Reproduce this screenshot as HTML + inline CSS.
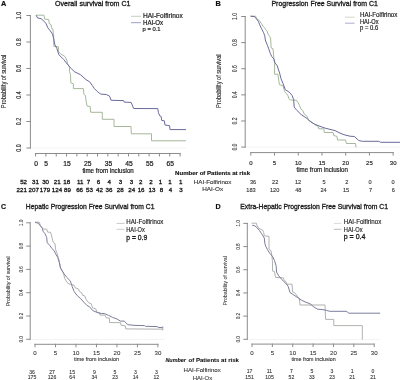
<!DOCTYPE html>
<html><head><meta charset="utf-8">
<style>
html,body{margin:0;padding:0;background:#fff;}
body{width:400px;height:380px;overflow:hidden;}
svg{display:block;font-family:"Liberation Sans", sans-serif;filter:blur(0.25px);}
</style></head>
<body>
<svg width="400" height="380" viewBox="0 0 400 380">
<rect x="0" y="0" width="400" height="380" fill="#fff"/>
<text x="0.9" y="5.9" font-size="7.3" fill="#111" stroke="#111" stroke-width="0.2" font-weight="bold">A</text>
<text x="55" y="6.0" font-size="7.4" fill="#1a1a1a" stroke="#1a1a1a" stroke-width="0.32" textLength="75.5" lengthAdjust="spacingAndGlyphs">Overall survival from C1</text>
<line x1="30.4" y1="15.0" x2="30.4" y2="148.5" stroke="#8c8c8c" stroke-width="1"/>
<line x1="26.4" y1="148.0" x2="30.9" y2="148.0" stroke="#8c8c8c" stroke-width="1"/>
<text transform="translate(18.9,148.0) rotate(-90)" y="2.52" font-size="7" fill="#2a2a2a" stroke="#2a2a2a" stroke-width="0.15" text-anchor="middle" textLength="7.4" lengthAdjust="spacingAndGlyphs">0.0</text>
<line x1="26.4" y1="121.5" x2="30.9" y2="121.5" stroke="#8c8c8c" stroke-width="1"/>
<text transform="translate(18.9,121.5) rotate(-90)" y="2.52" font-size="7" fill="#2a2a2a" stroke="#2a2a2a" stroke-width="0.15" text-anchor="middle" textLength="7.4" lengthAdjust="spacingAndGlyphs">0.2</text>
<line x1="26.4" y1="95.0" x2="30.9" y2="95.0" stroke="#8c8c8c" stroke-width="1"/>
<text transform="translate(18.9,95.0) rotate(-90)" y="2.52" font-size="7" fill="#2a2a2a" stroke="#2a2a2a" stroke-width="0.15" text-anchor="middle" textLength="7.4" lengthAdjust="spacingAndGlyphs">0.4</text>
<line x1="26.4" y1="68.5" x2="30.9" y2="68.5" stroke="#8c8c8c" stroke-width="1"/>
<text transform="translate(18.9,68.5) rotate(-90)" y="2.52" font-size="7" fill="#2a2a2a" stroke="#2a2a2a" stroke-width="0.15" text-anchor="middle" textLength="7.4" lengthAdjust="spacingAndGlyphs">0.6</text>
<line x1="26.4" y1="42.0" x2="30.9" y2="42.0" stroke="#8c8c8c" stroke-width="1"/>
<text transform="translate(18.9,42.0) rotate(-90)" y="2.52" font-size="7" fill="#2a2a2a" stroke="#2a2a2a" stroke-width="0.15" text-anchor="middle" textLength="7.4" lengthAdjust="spacingAndGlyphs">0.8</text>
<line x1="26.4" y1="15.5" x2="30.9" y2="15.5" stroke="#8c8c8c" stroke-width="1"/>
<text transform="translate(18.9,15.5) rotate(-90)" y="2.52" font-size="7" fill="#2a2a2a" stroke="#2a2a2a" stroke-width="0.15" text-anchor="middle" textLength="7.4" lengthAdjust="spacingAndGlyphs">1.0</text>
<line x1="31.5" y1="148" x2="186" y2="148" stroke="#f3f3f3" stroke-width="1"/>
<line x1="35.1" y1="153.5" x2="180.58" y2="153.5" stroke="#8c8c8c" stroke-width="1"/>
<line x1="35.6" y1="153.0" x2="35.6" y2="156.5" stroke="#8c8c8c" stroke-width="1"/>
<line x1="45.92" y1="153.0" x2="45.92" y2="156.5" stroke="#8c8c8c" stroke-width="1"/>
<line x1="56.24" y1="153.0" x2="56.24" y2="156.5" stroke="#8c8c8c" stroke-width="1"/>
<line x1="66.56" y1="153.0" x2="66.56" y2="156.5" stroke="#8c8c8c" stroke-width="1"/>
<line x1="76.88" y1="153.0" x2="76.88" y2="156.5" stroke="#8c8c8c" stroke-width="1"/>
<line x1="87.2" y1="153.0" x2="87.2" y2="156.5" stroke="#8c8c8c" stroke-width="1"/>
<line x1="97.52000000000001" y1="153.0" x2="97.52000000000001" y2="156.5" stroke="#8c8c8c" stroke-width="1"/>
<line x1="107.84" y1="153.0" x2="107.84" y2="156.5" stroke="#8c8c8c" stroke-width="1"/>
<line x1="118.16" y1="153.0" x2="118.16" y2="156.5" stroke="#8c8c8c" stroke-width="1"/>
<line x1="128.48" y1="153.0" x2="128.48" y2="156.5" stroke="#8c8c8c" stroke-width="1"/>
<line x1="138.8" y1="153.0" x2="138.8" y2="156.5" stroke="#8c8c8c" stroke-width="1"/>
<line x1="149.12" y1="153.0" x2="149.12" y2="156.5" stroke="#8c8c8c" stroke-width="1"/>
<line x1="159.44" y1="153.0" x2="159.44" y2="156.5" stroke="#8c8c8c" stroke-width="1"/>
<line x1="169.76" y1="153.0" x2="169.76" y2="156.5" stroke="#8c8c8c" stroke-width="1"/>
<line x1="180.08" y1="153.0" x2="180.08" y2="156.5" stroke="#8c8c8c" stroke-width="1"/>
<text x="36.0" y="166.31" font-size="6.7" fill="#1c1c1c" stroke="#1c1c1c" stroke-width="0.22" text-anchor="middle">0</text>
<text x="46.2" y="166.31" font-size="6.7" fill="#1c1c1c" stroke="#1c1c1c" stroke-width="0.22" text-anchor="middle">5</text>
<text x="67.0" y="166.31" font-size="6.7" fill="#1c1c1c" stroke="#1c1c1c" stroke-width="0.22" text-anchor="middle">15</text>
<text x="87.8" y="166.31" font-size="6.7" fill="#1c1c1c" stroke="#1c1c1c" stroke-width="0.22" text-anchor="middle">25</text>
<text x="108.4" y="166.31" font-size="6.7" fill="#1c1c1c" stroke="#1c1c1c" stroke-width="0.22" text-anchor="middle">35</text>
<text x="129.0" y="166.31" font-size="6.7" fill="#1c1c1c" stroke="#1c1c1c" stroke-width="0.22" text-anchor="middle">45</text>
<text x="149.7" y="166.31" font-size="6.7" fill="#1c1c1c" stroke="#1c1c1c" stroke-width="0.22" text-anchor="middle">55</text>
<text x="170.3" y="166.31" font-size="6.7" fill="#1c1c1c" stroke="#1c1c1c" stroke-width="0.22" text-anchor="middle">65</text>
<text x="82.4" y="173.4" font-size="6.6" fill="#1c1c1c" stroke="#1c1c1c" stroke-width="0.22" textLength="51.35" lengthAdjust="spacingAndGlyphs">time from inclusion</text>
<text transform="translate(3.8,81.4) rotate(-90)" y="2.38" font-size="6.6" fill="#2a2a2a" stroke="#2a2a2a" stroke-width="0.12" text-anchor="middle" textLength="53.5" lengthAdjust="spacingAndGlyphs">Probability of survival</text>
<polyline points="36,15.2 43.9,15.2 44.7,19.1 48.6,19.5 49.4,23.8 51,24.6 51.8,28.6 52.9,29 53.3,33.3 53.7,35.7 53.8,46.3 58.4,46.8 58.4,51.6 60.5,53.7 64.7,56.3 66.8,60 67.4,63.2 69.5,67.4 69.5,71.6 70.5,74.7 70.8,82.8 73.4,83.9 73.4,88.6 83.4,88.6 83.9,94.4 85.5,95.5 86,100.7 87.1,106 90.2,106.5 90.7,112.3 102.3,112.3 102.3,119.3 114,119.3 114,126.5 131,126.5 131.3,133.8 151.5,133.8 151.5,140.8 186,140.8" fill="none" stroke="#a0b496" stroke-width="0.95" stroke-linejoin="round"/>
<polyline points="36,15.2 37.6,17.9 41.1,18.7 44.3,21.5 46.2,23.8 47.8,27.8 49.8,30.2 52.5,34.1 53.7,38.8 54.7,44.2 56.8,48.4 58.9,54.7 63.7,59.5 67.4,64.2 71.1,68.4 74.2,71.6 80.5,74.7 86,79.7 89.7,81.8 92.3,85.5 94.4,88.6 97.6,91.8 100.7,94.1 106.3,94.5 109.5,96.1 111.1,100.3 123.7,100.6 124.2,102.1 131.1,102.4 133.7,108.5 157.8,108.6 158.4,112.5 159.7,115.8 161.1,116.4 161.7,120.4 164.3,120.8 165,125 169.6,125.7 170,129.6 186,129.6" fill="none" stroke="#6a6a9e" stroke-width="1.0" stroke-linejoin="round"/>
<line x1="131" y1="16.3" x2="141" y2="16.3" stroke="#b6c4ac" stroke-width="0.8"/>
<line x1="131" y1="22.7" x2="141" y2="22.7" stroke="#8486b8" stroke-width="0.8"/>
<text x="143" y="17.9" font-size="6.3" fill="#222" stroke="#222" stroke-width="0.2" textLength="39.7" lengthAdjust="spacingAndGlyphs">HAI-Folfirinox</text>
<text x="143" y="25.3" font-size="6.3" fill="#222" stroke="#222" stroke-width="0.2" textLength="20.2" lengthAdjust="spacingAndGlyphs">HAI-Ox</text>
<text x="142.5" y="31.2" font-size="6.2" fill="#222" stroke="#222" stroke-width="0.2" textLength="18.1" lengthAdjust="spacingAndGlyphs">p = 0.1</text>
<text x="23.6" y="183.8" font-size="6.2" fill="#151515" stroke="#151515" stroke-width="0.3" text-anchor="middle">52</text>
<text x="35.4" y="183.8" font-size="6.2" fill="#151515" stroke="#151515" stroke-width="0.3" text-anchor="middle">31</text>
<text x="45.6" y="183.8" font-size="6.2" fill="#151515" stroke="#151515" stroke-width="0.3" text-anchor="middle">30</text>
<text x="57.2" y="183.8" font-size="6.2" fill="#151515" stroke="#151515" stroke-width="0.3" text-anchor="middle">21</text>
<text x="66.7" y="183.8" font-size="6.2" fill="#151515" stroke="#151515" stroke-width="0.3" text-anchor="middle">18</text>
<text x="80.2" y="183.8" font-size="6.2" fill="#151515" stroke="#151515" stroke-width="0.3" text-anchor="middle">11</text>
<text x="88.5" y="183.8" font-size="6.2" fill="#151515" stroke="#151515" stroke-width="0.3" text-anchor="middle">7</text>
<text x="98.4" y="183.8" font-size="6.2" fill="#151515" stroke="#151515" stroke-width="0.3" text-anchor="middle">6</text>
<text x="109.2" y="183.8" font-size="6.2" fill="#151515" stroke="#151515" stroke-width="0.3" text-anchor="middle">4</text>
<text x="120.5" y="183.8" font-size="6.2" fill="#151515" stroke="#151515" stroke-width="0.3" text-anchor="middle">3</text>
<text x="131.4" y="183.8" font-size="6.2" fill="#151515" stroke="#151515" stroke-width="0.3" text-anchor="middle">3</text>
<text x="140.7" y="183.8" font-size="6.2" fill="#151515" stroke="#151515" stroke-width="0.3" text-anchor="middle">2</text>
<text x="150.9" y="183.8" font-size="6.2" fill="#151515" stroke="#151515" stroke-width="0.3" text-anchor="middle">2</text>
<text x="160.5" y="183.8" font-size="6.2" fill="#151515" stroke="#151515" stroke-width="0.3" text-anchor="middle">1</text>
<text x="169.9" y="183.8" font-size="6.2" fill="#151515" stroke="#151515" stroke-width="0.3" text-anchor="middle">1</text>
<text x="180.7" y="183.8" font-size="6.2" fill="#151515" stroke="#151515" stroke-width="0.3" text-anchor="middle">1</text>
<text x="21.7" y="191.7" font-size="6.2" fill="#151515" stroke="#151515" stroke-width="0.3" text-anchor="middle">221</text>
<text x="33.7" y="191.7" font-size="6.2" fill="#151515" stroke="#151515" stroke-width="0.3" text-anchor="middle">207</text>
<text x="45" y="191.7" font-size="6.2" fill="#151515" stroke="#151515" stroke-width="0.3" text-anchor="middle">179</text>
<text x="57" y="191.7" font-size="6.2" fill="#151515" stroke="#151515" stroke-width="0.3" text-anchor="middle">124</text>
<text x="67.5" y="191.7" font-size="6.2" fill="#151515" stroke="#151515" stroke-width="0.3" text-anchor="middle">89</text>
<text x="79.6" y="191.7" font-size="6.2" fill="#151515" stroke="#151515" stroke-width="0.3" text-anchor="middle">66</text>
<text x="89.5" y="191.7" font-size="6.2" fill="#151515" stroke="#151515" stroke-width="0.3" text-anchor="middle">53</text>
<text x="99.5" y="191.7" font-size="6.2" fill="#151515" stroke="#151515" stroke-width="0.3" text-anchor="middle">42</text>
<text x="109" y="191.7" font-size="6.2" fill="#151515" stroke="#151515" stroke-width="0.3" text-anchor="middle">36</text>
<text x="120.3" y="191.7" font-size="6.2" fill="#151515" stroke="#151515" stroke-width="0.3" text-anchor="middle">28</text>
<text x="131.7" y="191.7" font-size="6.2" fill="#151515" stroke="#151515" stroke-width="0.3" text-anchor="middle">24</text>
<text x="141.1" y="191.7" font-size="6.2" fill="#151515" stroke="#151515" stroke-width="0.3" text-anchor="middle">16</text>
<text x="152" y="191.7" font-size="6.2" fill="#151515" stroke="#151515" stroke-width="0.3" text-anchor="middle">13</text>
<text x="161.4" y="191.7" font-size="6.2" fill="#151515" stroke="#151515" stroke-width="0.3" text-anchor="middle">8</text>
<text x="170.4" y="191.7" font-size="6.2" fill="#151515" stroke="#151515" stroke-width="0.3" text-anchor="middle">4</text>
<text x="180.9" y="191.7" font-size="6.2" fill="#151515" stroke="#151515" stroke-width="0.3" text-anchor="middle">3</text>
<text x="175.1" y="175.0" font-size="6" fill="#151515" stroke="#151515" stroke-width="0.15" font-weight="bold" textLength="75.0" lengthAdjust="spacingAndGlyphs">Number of Patients at risk</text>
<text x="193.8" y="184.0" font-size="5.6" fill="#333" stroke="#333" stroke-width="0.12" textLength="37.6" lengthAdjust="spacingAndGlyphs">HAI-Folfirinox</text>
<text x="202.2" y="190.8" font-size="5.6" fill="#333" stroke="#333" stroke-width="0.12" textLength="20.9" lengthAdjust="spacingAndGlyphs">HAI-Ox</text>
<text x="215.6" y="5.9" font-size="7.3" fill="#111" stroke="#111" stroke-width="0.2" font-weight="bold">B</text>
<text x="271.5" y="6.0" font-size="7.4" fill="#1a1a1a" stroke="#1a1a1a" stroke-width="0.32" textLength="106.3" lengthAdjust="spacingAndGlyphs">Progression Free Survival from C1</text>
<line x1="245.2" y1="16.0" x2="245.2" y2="147.6" stroke="#8c8c8c" stroke-width="1"/>
<line x1="241.2" y1="147.1" x2="245.7" y2="147.1" stroke="#8c8c8c" stroke-width="1"/>
<text transform="translate(234.2,147.1) rotate(-90)" y="2.38" font-size="6.6" fill="#333" stroke="#333" stroke-width="0.1" text-anchor="middle" textLength="7.0" lengthAdjust="spacingAndGlyphs">0.0</text>
<line x1="241.2" y1="120.97999999999999" x2="245.7" y2="120.97999999999999" stroke="#8c8c8c" stroke-width="1"/>
<text transform="translate(234.2,120.97999999999999) rotate(-90)" y="2.38" font-size="6.6" fill="#333" stroke="#333" stroke-width="0.1" text-anchor="middle" textLength="7.0" lengthAdjust="spacingAndGlyphs">0.2</text>
<line x1="241.2" y1="94.85999999999999" x2="245.7" y2="94.85999999999999" stroke="#8c8c8c" stroke-width="1"/>
<text transform="translate(234.2,94.85999999999999) rotate(-90)" y="2.38" font-size="6.6" fill="#333" stroke="#333" stroke-width="0.1" text-anchor="middle" textLength="7.0" lengthAdjust="spacingAndGlyphs">0.4</text>
<line x1="241.2" y1="68.74" x2="245.7" y2="68.74" stroke="#8c8c8c" stroke-width="1"/>
<text transform="translate(234.2,68.74) rotate(-90)" y="2.38" font-size="6.6" fill="#333" stroke="#333" stroke-width="0.1" text-anchor="middle" textLength="7.0" lengthAdjust="spacingAndGlyphs">0.6</text>
<line x1="241.2" y1="42.61999999999999" x2="245.7" y2="42.61999999999999" stroke="#8c8c8c" stroke-width="1"/>
<text transform="translate(234.2,42.61999999999999) rotate(-90)" y="2.38" font-size="6.6" fill="#333" stroke="#333" stroke-width="0.1" text-anchor="middle" textLength="7.0" lengthAdjust="spacingAndGlyphs">0.8</text>
<line x1="241.2" y1="16.5" x2="245.7" y2="16.5" stroke="#8c8c8c" stroke-width="1"/>
<text transform="translate(234.2,16.5) rotate(-90)" y="2.38" font-size="6.6" fill="#333" stroke="#333" stroke-width="0.1" text-anchor="middle" textLength="7.0" lengthAdjust="spacingAndGlyphs">1.0</text>
<line x1="246.2" y1="147.1" x2="400" y2="147.1" stroke="#f3f3f3" stroke-width="1"/>
<line x1="250.3" y1="152.6" x2="393.65" y2="152.6" stroke="#8c8c8c" stroke-width="1"/>
<line x1="250.8" y1="152.1" x2="250.8" y2="155.6" stroke="#8c8c8c" stroke-width="1"/>
<line x1="274.52500000000003" y1="152.1" x2="274.52500000000003" y2="155.6" stroke="#8c8c8c" stroke-width="1"/>
<line x1="298.25" y1="152.1" x2="298.25" y2="155.6" stroke="#8c8c8c" stroke-width="1"/>
<line x1="321.975" y1="152.1" x2="321.975" y2="155.6" stroke="#8c8c8c" stroke-width="1"/>
<line x1="345.70000000000005" y1="152.1" x2="345.70000000000005" y2="155.6" stroke="#8c8c8c" stroke-width="1"/>
<line x1="369.425" y1="152.1" x2="369.425" y2="155.6" stroke="#8c8c8c" stroke-width="1"/>
<line x1="393.15" y1="152.1" x2="393.15" y2="155.6" stroke="#8c8c8c" stroke-width="1"/>
<text x="250.8" y="165.16" font-size="6" fill="#222" stroke="#222" stroke-width="0.15" text-anchor="middle">0</text>
<text x="274.53" y="165.16" font-size="6" fill="#222" stroke="#222" stroke-width="0.15" text-anchor="middle">5</text>
<text x="298.25" y="165.16" font-size="6" fill="#222" stroke="#222" stroke-width="0.15" text-anchor="middle">10</text>
<text x="321.98" y="165.16" font-size="6" fill="#222" stroke="#222" stroke-width="0.15" text-anchor="middle">15</text>
<text x="345.7" y="165.16" font-size="6" fill="#222" stroke="#222" stroke-width="0.15" text-anchor="middle">20</text>
<text x="369.43" y="165.16" font-size="6" fill="#222" stroke="#222" stroke-width="0.15" text-anchor="middle">25</text>
<text x="393.15" y="165.16" font-size="6" fill="#222" stroke="#222" stroke-width="0.15" text-anchor="middle">30</text>
<text x="296.5" y="172.1" font-size="6.5" fill="#1c1c1c" stroke="#1c1c1c" stroke-width="0.2" textLength="51.4" lengthAdjust="spacingAndGlyphs">time from inclusion</text>
<text transform="translate(219.0,81.2) rotate(-90)" y="2.38" font-size="6.6" fill="#2a2a2a" stroke="#2a2a2a" stroke-width="0.1" text-anchor="middle" textLength="53.5" lengthAdjust="spacingAndGlyphs">Probability of survival</text>
<polyline points="250.6,16.2 255.7,16.2 256.5,18.5 259.3,20.5 261.6,23.7 262.8,26 264.4,27.6 265.6,29.6 267.2,31.2 267.9,33.9 269.9,36.7 270.7,39 271.1,47.9 273,48.7 273.8,57.4 274.6,63.7 274.6,74.2 277.8,74.2 278.8,80.5 279.4,84.7 283.1,85.8 284.7,91.8 286.8,93.9 287.9,95.5 288.9,98.7 290.5,100 296.3,100.2 297.9,102.4 299.5,105.5 301.1,109.2 302.6,110.3 304.2,113.9 307.4,116.6 308.4,120.3 311.6,121.8 314.7,124.5 318.1,126.3 318.8,128.8 323.8,128.8 324.4,132.5 333.1,132.5 333.8,135.6 336.9,136.3 337.5,140 345.6,140 346.3,143.5 355.6,143.5 356,147.5" fill="none" stroke="#a0b496" stroke-width="0.95" stroke-linejoin="round"/>
<polyline points="250.6,16.2 254.5,16.6 256.5,18.9 258.5,21.7 259.7,24.8 261.6,28.8 263.6,32.7 264.8,35.9 265.3,40 267.5,45.5 268.7,48.7 270.3,53.4 271.8,56.6 273.8,58.9 275,62.9 277.4,66 278.5,70 279.4,72.1 280.9,78.4 283.1,83.7 285.3,89.7 289.5,92.4 292.1,95.5 293.7,99.7 294.2,107.1 296.8,110.3 301.1,114.5 304.2,116.6 307.4,118.7 310.5,121.8 315,124.4 320,126.3 325,128.1 330,129.4 335,130.6 340,133.1 345,135 350,136.2 354.4,136.5 358.8,140.6 362.5,141.3 378.8,141.3 380.6,142.3 400,142.3" fill="none" stroke="#6a6a9e" stroke-width="1.0" stroke-linejoin="round"/>
<line x1="345" y1="17.2" x2="354.5" y2="17.2" stroke="#c3ceba" stroke-width="0.8"/>
<line x1="345" y1="23.2" x2="354.5" y2="23.2" stroke="#9597c4" stroke-width="0.8"/>
<text x="360" y="16.6" font-size="6.5" fill="#222" stroke="#222" stroke-width="0.18" textLength="37.4" lengthAdjust="spacingAndGlyphs">HAI-Folfirinox</text>
<text x="360" y="24.4" font-size="6.5" fill="#222" stroke="#222" stroke-width="0.18" textLength="18.5" lengthAdjust="spacingAndGlyphs">HAI-Ox</text>
<text x="360" y="29.7" font-size="6.5" fill="#222" stroke="#222" stroke-width="0.18" textLength="18.2" lengthAdjust="spacingAndGlyphs">p = 0.6</text>
<text x="253" y="183.6" font-size="5.6" fill="#333" stroke="#333" stroke-width="0.12" text-anchor="middle">36</text>
<text x="275.2" y="183.6" font-size="5.6" fill="#333" stroke="#333" stroke-width="0.12" text-anchor="middle">22</text>
<text x="298" y="183.6" font-size="5.6" fill="#333" stroke="#333" stroke-width="0.12" text-anchor="middle">12</text>
<text x="324.1" y="183.6" font-size="5.6" fill="#333" stroke="#333" stroke-width="0.12" text-anchor="middle">5</text>
<text x="346.7" y="183.6" font-size="5.6" fill="#333" stroke="#333" stroke-width="0.12" text-anchor="middle">2</text>
<text x="370" y="183.6" font-size="5.6" fill="#333" stroke="#333" stroke-width="0.12" text-anchor="middle">0</text>
<text x="393" y="183.6" font-size="5.6" fill="#333" stroke="#333" stroke-width="0.12" text-anchor="middle">0</text>
<text x="251" y="191.6" font-size="5.6" fill="#333" stroke="#333" stroke-width="0.12" text-anchor="middle">183</text>
<text x="274.6" y="191.6" font-size="5.6" fill="#333" stroke="#333" stroke-width="0.12" text-anchor="middle">120</text>
<text x="298.3" y="191.6" font-size="5.6" fill="#333" stroke="#333" stroke-width="0.12" text-anchor="middle">48</text>
<text x="323.5" y="191.6" font-size="5.6" fill="#333" stroke="#333" stroke-width="0.12" text-anchor="middle">24</text>
<text x="346" y="191.6" font-size="5.6" fill="#333" stroke="#333" stroke-width="0.12" text-anchor="middle">15</text>
<text x="370.5" y="191.6" font-size="5.6" fill="#333" stroke="#333" stroke-width="0.12" text-anchor="middle">7</text>
<text x="393.2" y="191.6" font-size="5.6" fill="#333" stroke="#333" stroke-width="0.12" text-anchor="middle">6</text>
<text x="1.0" y="209.0" font-size="7.0" fill="#111" stroke="#111" stroke-width="0.15" font-weight="bold">C</text>
<text x="25.8" y="209.1" font-size="7.4" fill="#1a1a1a" stroke="#1a1a1a" stroke-width="0.32" textLength="128.7" lengthAdjust="spacingAndGlyphs">Hepatic Progression Free Survival from C1</text>
<line x1="30.2" y1="222.3" x2="30.2" y2="339.8" stroke="#8c8c8c" stroke-width="1"/>
<line x1="26.2" y1="339.3" x2="30.7" y2="339.3" stroke="#8c8c8c" stroke-width="1"/>
<text transform="translate(20.6,339.3) rotate(-90)" y="2.23" font-size="6.2" fill="#333" stroke="#333" stroke-width="0.08" text-anchor="middle" textLength="6.4" lengthAdjust="spacingAndGlyphs">0.0</text>
<line x1="26.2" y1="316.0" x2="30.7" y2="316.0" stroke="#8c8c8c" stroke-width="1"/>
<text transform="translate(20.6,316.0) rotate(-90)" y="2.23" font-size="6.2" fill="#333" stroke="#333" stroke-width="0.08" text-anchor="middle" textLength="6.4" lengthAdjust="spacingAndGlyphs">0.2</text>
<line x1="26.2" y1="292.7" x2="30.7" y2="292.7" stroke="#8c8c8c" stroke-width="1"/>
<text transform="translate(20.6,292.7) rotate(-90)" y="2.23" font-size="6.2" fill="#333" stroke="#333" stroke-width="0.08" text-anchor="middle" textLength="6.4" lengthAdjust="spacingAndGlyphs">0.4</text>
<line x1="26.2" y1="269.40000000000003" x2="30.7" y2="269.40000000000003" stroke="#8c8c8c" stroke-width="1"/>
<text transform="translate(20.6,269.40000000000003) rotate(-90)" y="2.23" font-size="6.2" fill="#333" stroke="#333" stroke-width="0.08" text-anchor="middle" textLength="6.4" lengthAdjust="spacingAndGlyphs">0.6</text>
<line x1="26.2" y1="246.10000000000002" x2="30.7" y2="246.10000000000002" stroke="#8c8c8c" stroke-width="1"/>
<text transform="translate(20.6,246.10000000000002) rotate(-90)" y="2.23" font-size="6.2" fill="#333" stroke="#333" stroke-width="0.08" text-anchor="middle" textLength="6.4" lengthAdjust="spacingAndGlyphs">0.8</text>
<line x1="26.2" y1="222.8" x2="30.7" y2="222.8" stroke="#8c8c8c" stroke-width="1"/>
<text transform="translate(20.6,222.8) rotate(-90)" y="2.23" font-size="6.2" fill="#333" stroke="#333" stroke-width="0.08" text-anchor="middle" textLength="6.4" lengthAdjust="spacingAndGlyphs">1.0</text>
<line x1="31.5" y1="339.4" x2="165" y2="339.4" stroke="#f3f3f3" stroke-width="1"/>
<line x1="34.5" y1="344.3" x2="158.41000000000003" y2="344.3" stroke="#8c8c8c" stroke-width="1"/>
<line x1="35.0" y1="343.8" x2="35.0" y2="347.3" stroke="#8c8c8c" stroke-width="1"/>
<line x1="55.485" y1="343.8" x2="55.485" y2="347.3" stroke="#8c8c8c" stroke-width="1"/>
<line x1="75.97" y1="343.8" x2="75.97" y2="347.3" stroke="#8c8c8c" stroke-width="1"/>
<line x1="96.45500000000001" y1="343.8" x2="96.45500000000001" y2="347.3" stroke="#8c8c8c" stroke-width="1"/>
<line x1="116.94000000000001" y1="343.8" x2="116.94000000000001" y2="347.3" stroke="#8c8c8c" stroke-width="1"/>
<line x1="137.425" y1="343.8" x2="137.425" y2="347.3" stroke="#8c8c8c" stroke-width="1"/>
<line x1="157.91000000000003" y1="343.8" x2="157.91000000000003" y2="347.3" stroke="#8c8c8c" stroke-width="1"/>
<text x="35.0" y="355.3" font-size="6.1" fill="#333" stroke="#333" stroke-width="0.08" text-anchor="middle">0</text>
<text x="55.48" y="355.3" font-size="6.1" fill="#333" stroke="#333" stroke-width="0.08" text-anchor="middle">5</text>
<text x="75.97" y="355.3" font-size="6.1" fill="#333" stroke="#333" stroke-width="0.08" text-anchor="middle">10</text>
<text x="96.46" y="355.3" font-size="6.1" fill="#333" stroke="#333" stroke-width="0.08" text-anchor="middle">15</text>
<text x="116.94" y="355.3" font-size="6.1" fill="#333" stroke="#333" stroke-width="0.08" text-anchor="middle">20</text>
<text x="137.43" y="355.3" font-size="6.1" fill="#333" stroke="#333" stroke-width="0.08" text-anchor="middle">25</text>
<text x="157.91" y="355.3" font-size="6.1" fill="#333" stroke="#333" stroke-width="0.08" text-anchor="middle">30</text>
<text x="74.1" y="361.2" font-size="5.9" fill="#2a2a2a" stroke="#2a2a2a" stroke-width="0.1" textLength="44.8" lengthAdjust="spacingAndGlyphs">time from inclusion</text>
<text transform="translate(8.4,281.3) rotate(-90)" y="2.05" font-size="5.7" fill="#333" stroke="#333" stroke-width="0.06" text-anchor="middle" textLength="50" lengthAdjust="spacingAndGlyphs">Probability of survival</text>
<polyline points="35.1,222.2 39.3,222.2 40.4,225.4 42.5,228 43.5,229.1 46.7,229.1 47.7,232.2 50.4,232.2 51.4,234.8 52.5,240.1 53.5,242.7 55.1,243.8 55.6,249.6 57.2,253.8 58.3,257.5 59.5,262.5 60.6,268 63.5,273.1 64.6,278.3 68,283.6 71.4,284.5 74.2,285.3 75.3,287.9 78.4,288.9 79.5,291.6 81.6,292.6 82.6,295.3 84.7,295.8 85.8,298.9 87.4,301.1 88.4,302.6 91.1,303.7 92.6,307.9 95.8,308.9 96.8,312.1 99.5,312.6 100,315 105,315.2 106.3,317.8 109.5,318.2 109.5,322.6 120.5,322.6 121.1,325.3 125.3,325.8 125.8,328.9 163.4,329.2" fill="none" stroke="#b0b2ae" stroke-width="1.0" stroke-linejoin="round"/>
<polyline points="35.1,222.2 38.3,223.3 40.4,225.9 42.5,228.5 43,231.2 45.1,233.8 46.7,237.5 47.2,242.7 49.8,245.4 51.9,248.5 54.1,250.6 55.6,253.8 57.7,257.4 59.3,262.5 60.4,267.8 63.5,273.1 66.7,277.3 69.8,280.4 71.4,283.6 72.1,286.3 74.2,291.6 77.4,295.8 80.5,298.4 83.7,302.1 86.8,305.3 89.5,306.8 92.6,310.5 97.4,312.6 101.6,313.5 104.2,313.5 108.4,315.3 112.6,317.4 116.8,318.9 120.5,321.1 124.2,321.1 127.9,324.7 135,325.4 144.5,325.6 145.5,326.3 157.1,326.6 158.2,327.4 163.4,327.7" fill="none" stroke="#7a7d9a" stroke-width="1.0" stroke-linejoin="round"/>
<line x1="162.6" y1="326.0" x2="162.6" y2="330.5" stroke="#b0b0b0" stroke-width="0.8"/>
<line x1="116.6" y1="223.4" x2="124.5" y2="223.4" stroke="#b0b0b0" stroke-width="0.7"/>
<line x1="116.6" y1="229.3" x2="124.5" y2="229.3" stroke="#b8b8bc" stroke-width="0.7"/>
<text x="126.3" y="224.4" font-size="6.3" fill="#222" stroke="#222" stroke-width="0.14" textLength="37.1" lengthAdjust="spacingAndGlyphs">HAI-Folfirinox</text>
<text x="126.3" y="232.3" font-size="6.3" fill="#222" stroke="#222" stroke-width="0.14" textLength="18.5" lengthAdjust="spacingAndGlyphs">HAI-Ox</text>
<text x="126.3" y="239.6" font-size="7.3" fill="#1a1a1a" stroke="#1a1a1a" stroke-width="0.3" textLength="20.9" lengthAdjust="spacingAndGlyphs">p = 0.9</text>
<text x="32" y="373.6" font-size="5.1" fill="#333" stroke="#333" stroke-width="0.1" text-anchor="middle">36</text>
<text x="52" y="373.6" font-size="5.1" fill="#333" stroke="#333" stroke-width="0.1" text-anchor="middle">27</text>
<text x="72.2" y="373.6" font-size="5.1" fill="#333" stroke="#333" stroke-width="0.1" text-anchor="middle">15</text>
<text x="94.3" y="373.6" font-size="5.1" fill="#333" stroke="#333" stroke-width="0.1" text-anchor="middle">9</text>
<text x="115" y="373.6" font-size="5.1" fill="#333" stroke="#333" stroke-width="0.1" text-anchor="middle">5</text>
<text x="135.5" y="373.6" font-size="5.1" fill="#333" stroke="#333" stroke-width="0.1" text-anchor="middle">3</text>
<text x="156.3" y="373.6" font-size="5.1" fill="#333" stroke="#333" stroke-width="0.1" text-anchor="middle">3</text>
<text x="32" y="379.3" font-size="5.1" fill="#333" stroke="#333" stroke-width="0.1" text-anchor="middle">175</text>
<text x="52" y="379.3" font-size="5.1" fill="#333" stroke="#333" stroke-width="0.1" text-anchor="middle">126</text>
<text x="72.2" y="379.3" font-size="5.1" fill="#333" stroke="#333" stroke-width="0.1" text-anchor="middle">64</text>
<text x="94.3" y="379.3" font-size="5.1" fill="#333" stroke="#333" stroke-width="0.1" text-anchor="middle">34</text>
<text x="115" y="379.3" font-size="5.1" fill="#333" stroke="#333" stroke-width="0.1" text-anchor="middle">23</text>
<text x="135.5" y="379.3" font-size="5.1" fill="#333" stroke="#333" stroke-width="0.1" text-anchor="middle">14</text>
<text x="156.3" y="379.3" font-size="5.1" fill="#333" stroke="#333" stroke-width="0.1" text-anchor="middle">12</text>
<text x="165.4" y="362.2" font-size="6.2" fill="#111" stroke="#111" stroke-width="0.08" font-weight="bold" font-style="italic" textLength="20.6" lengthAdjust="spacingAndGlyphs">Number</text>
<text x="188.6" y="362.2" font-size="6.2" fill="#111" stroke="#111" stroke-width="0.08" font-weight="bold" textLength="50.3" lengthAdjust="spacingAndGlyphs">of Patients at risk</text>
<text x="183.6" y="371.6" font-size="5.2" fill="#333" stroke="#333" stroke-width="0.08" textLength="37.2" lengthAdjust="spacingAndGlyphs">HAI-Folfirinox</text>
<text x="192.7" y="379.8" font-size="5.2" fill="#333" stroke="#333" stroke-width="0.08" textLength="19.5" lengthAdjust="spacingAndGlyphs">HAI-Ox</text>
<text x="215.6" y="209.3" font-size="7.2" fill="#111" stroke="#111" stroke-width="0.15" font-weight="bold">D</text>
<text x="240.3" y="209.0" font-size="7.4" fill="#1a1a1a" stroke="#1a1a1a" stroke-width="0.32" textLength="147.7" lengthAdjust="spacingAndGlyphs">Extra-Hepatic Progression Free Survival from C1</text>
<line x1="247.3" y1="222.9" x2="247.3" y2="339.8" stroke="#8c8c8c" stroke-width="1"/>
<line x1="243.3" y1="339.3" x2="247.8" y2="339.3" stroke="#8c8c8c" stroke-width="1"/>
<text transform="translate(238.0,339.3) rotate(-90)" y="2.23" font-size="6.2" fill="#333" stroke="#333" stroke-width="0.08" text-anchor="middle" textLength="6.4" lengthAdjust="spacingAndGlyphs">0.0</text>
<line x1="243.3" y1="316.12" x2="247.8" y2="316.12" stroke="#8c8c8c" stroke-width="1"/>
<text transform="translate(238.0,316.12) rotate(-90)" y="2.23" font-size="6.2" fill="#333" stroke="#333" stroke-width="0.08" text-anchor="middle" textLength="6.4" lengthAdjust="spacingAndGlyphs">0.2</text>
<line x1="243.3" y1="292.94" x2="247.8" y2="292.94" stroke="#8c8c8c" stroke-width="1"/>
<text transform="translate(238.0,292.94) rotate(-90)" y="2.23" font-size="6.2" fill="#333" stroke="#333" stroke-width="0.08" text-anchor="middle" textLength="6.4" lengthAdjust="spacingAndGlyphs">0.4</text>
<line x1="243.3" y1="269.76" x2="247.8" y2="269.76" stroke="#8c8c8c" stroke-width="1"/>
<text transform="translate(238.0,269.76) rotate(-90)" y="2.23" font-size="6.2" fill="#333" stroke="#333" stroke-width="0.08" text-anchor="middle" textLength="6.4" lengthAdjust="spacingAndGlyphs">0.6</text>
<line x1="243.3" y1="246.57999999999998" x2="247.8" y2="246.57999999999998" stroke="#8c8c8c" stroke-width="1"/>
<text transform="translate(238.0,246.57999999999998) rotate(-90)" y="2.23" font-size="6.2" fill="#333" stroke="#333" stroke-width="0.08" text-anchor="middle" textLength="6.4" lengthAdjust="spacingAndGlyphs">0.8</text>
<line x1="243.3" y1="223.4" x2="247.8" y2="223.4" stroke="#8c8c8c" stroke-width="1"/>
<text transform="translate(238.0,223.4) rotate(-90)" y="2.23" font-size="6.2" fill="#333" stroke="#333" stroke-width="0.08" text-anchor="middle" textLength="6.4" lengthAdjust="spacingAndGlyphs">1.0</text>
<line x1="248.3" y1="339.6" x2="380" y2="339.6" stroke="#f3f3f3" stroke-width="1"/>
<line x1="251.5" y1="344.1" x2="374.69" y2="344.1" stroke="#8c8c8c" stroke-width="1"/>
<line x1="252.0" y1="343.6" x2="252.0" y2="347.1" stroke="#8c8c8c" stroke-width="1"/>
<line x1="272.365" y1="343.6" x2="272.365" y2="347.1" stroke="#8c8c8c" stroke-width="1"/>
<line x1="292.73" y1="343.6" x2="292.73" y2="347.1" stroke="#8c8c8c" stroke-width="1"/>
<line x1="313.095" y1="343.6" x2="313.095" y2="347.1" stroke="#8c8c8c" stroke-width="1"/>
<line x1="333.46000000000004" y1="343.6" x2="333.46000000000004" y2="347.1" stroke="#8c8c8c" stroke-width="1"/>
<line x1="353.82500000000005" y1="343.6" x2="353.82500000000005" y2="347.1" stroke="#8c8c8c" stroke-width="1"/>
<line x1="374.19" y1="343.6" x2="374.19" y2="347.1" stroke="#8c8c8c" stroke-width="1"/>
<text x="252.0" y="355.4" font-size="6.1" fill="#333" stroke="#333" stroke-width="0.08" text-anchor="middle">0</text>
<text x="272.37" y="355.4" font-size="6.1" fill="#333" stroke="#333" stroke-width="0.08" text-anchor="middle">5</text>
<text x="292.73" y="355.4" font-size="6.1" fill="#333" stroke="#333" stroke-width="0.08" text-anchor="middle">10</text>
<text x="313.1" y="355.4" font-size="6.1" fill="#333" stroke="#333" stroke-width="0.08" text-anchor="middle">15</text>
<text x="333.46" y="355.4" font-size="6.1" fill="#333" stroke="#333" stroke-width="0.08" text-anchor="middle">20</text>
<text x="353.83" y="355.4" font-size="6.1" fill="#333" stroke="#333" stroke-width="0.08" text-anchor="middle">25</text>
<text x="374.19" y="355.4" font-size="6.1" fill="#333" stroke="#333" stroke-width="0.08" text-anchor="middle">30</text>
<text x="291.4" y="361.2" font-size="5.9" fill="#2a2a2a" stroke="#2a2a2a" stroke-width="0.1" textLength="44.3" lengthAdjust="spacingAndGlyphs">time from inclusion</text>
<text transform="translate(225.3,280.7) rotate(-90)" y="2.05" font-size="5.7" fill="#333" stroke="#333" stroke-width="0.06" text-anchor="middle" textLength="49" lengthAdjust="spacingAndGlyphs">Probability of survival</text>
<polyline points="251.6,223.2 256.4,223.2 256.9,225.3 258.5,228 261.1,229.5 262.7,230.1 263.7,232.7 264.3,235.8 269,236.4 269,249.5 271,250.6 271.8,255.3 272.4,260.5 272.6,271.1 274.5,271.6 275.5,277.4 283.4,277.9 283.9,279.5 286.1,282.1 287.1,284.2 292,284.2 292.6,292 294.4,292.5 299.4,298.8 300,305 325,305 325.6,319.4 333.8,319.4 333.8,325.6 362.3,325.6 362.3,339.7" fill="none" stroke="#b0b2ae" stroke-width="1.0" stroke-linejoin="round"/>
<polyline points="252.2,225.3 254.8,225.8 257.4,228 259.5,230.6 261.6,233.7 264.3,238 264.8,243.2 265.8,246.4 267.4,249.5 269.7,253.2 272.4,256.3 274.5,260.5 276.1,265.8 276.6,272.1 278.7,275.8 281.8,279.5 285,282.5 288.1,286.3 290,292.5 293.8,295 297.5,297.5 301.3,300 305,301.9 310,303.8 313.8,306.9 317.5,309.2 322,309.5 326.5,310.4 329.8,311.3 346.8,311.3 348.5,313.2 380.2,313.2" fill="none" stroke="#7a7d9a" stroke-width="1.0" stroke-linejoin="round"/>
<line x1="333.75" y1="223.4" x2="341.25" y2="223.4" stroke="#cdcdcd" stroke-width="0.7"/>
<line x1="333.75" y1="229.3" x2="341.25" y2="229.3" stroke="#a0a0a6" stroke-width="0.7"/>
<text x="343.75" y="224.0" font-size="6.3" fill="#222" stroke="#222" stroke-width="0.14" textLength="37.5" lengthAdjust="spacingAndGlyphs">HAI-Folfirinox</text>
<text x="343.75" y="231.8" font-size="6.3" fill="#222" stroke="#222" stroke-width="0.14" textLength="18.75" lengthAdjust="spacingAndGlyphs">HAI-Ox</text>
<text x="343.75" y="239.2" font-size="7.3" fill="#1a1a1a" stroke="#1a1a1a" stroke-width="0.3" textLength="21.75" lengthAdjust="spacingAndGlyphs">p = 0.4</text>
<text x="249.5" y="373.4" font-size="5.1" fill="#333" stroke="#333" stroke-width="0.1" text-anchor="middle">17</text>
<text x="269.5" y="373.4" font-size="5.1" fill="#333" stroke="#333" stroke-width="0.1" text-anchor="middle">11</text>
<text x="291.4" y="373.4" font-size="5.1" fill="#333" stroke="#333" stroke-width="0.1" text-anchor="middle">7</text>
<text x="311.8" y="373.4" font-size="5.1" fill="#333" stroke="#333" stroke-width="0.1" text-anchor="middle">5</text>
<text x="332" y="373.4" font-size="5.1" fill="#333" stroke="#333" stroke-width="0.1" text-anchor="middle">3</text>
<text x="352.2" y="373.4" font-size="5.1" fill="#333" stroke="#333" stroke-width="0.1" text-anchor="middle">1</text>
<text x="373" y="373.4" font-size="5.1" fill="#333" stroke="#333" stroke-width="0.1" text-anchor="middle">0</text>
<text x="249.5" y="379.1" font-size="5.1" fill="#333" stroke="#333" stroke-width="0.1" text-anchor="middle">151</text>
<text x="269.5" y="379.1" font-size="5.1" fill="#333" stroke="#333" stroke-width="0.1" text-anchor="middle">105</text>
<text x="291.4" y="379.1" font-size="5.1" fill="#333" stroke="#333" stroke-width="0.1" text-anchor="middle">52</text>
<text x="311.8" y="379.1" font-size="5.1" fill="#333" stroke="#333" stroke-width="0.1" text-anchor="middle">33</text>
<text x="332" y="379.1" font-size="5.1" fill="#333" stroke="#333" stroke-width="0.1" text-anchor="middle">23</text>
<text x="352.2" y="379.1" font-size="5.1" fill="#333" stroke="#333" stroke-width="0.1" text-anchor="middle">21</text>
<text x="373" y="379.1" font-size="5.1" fill="#333" stroke="#333" stroke-width="0.1" text-anchor="middle">21</text>
</svg>
</body></html>
